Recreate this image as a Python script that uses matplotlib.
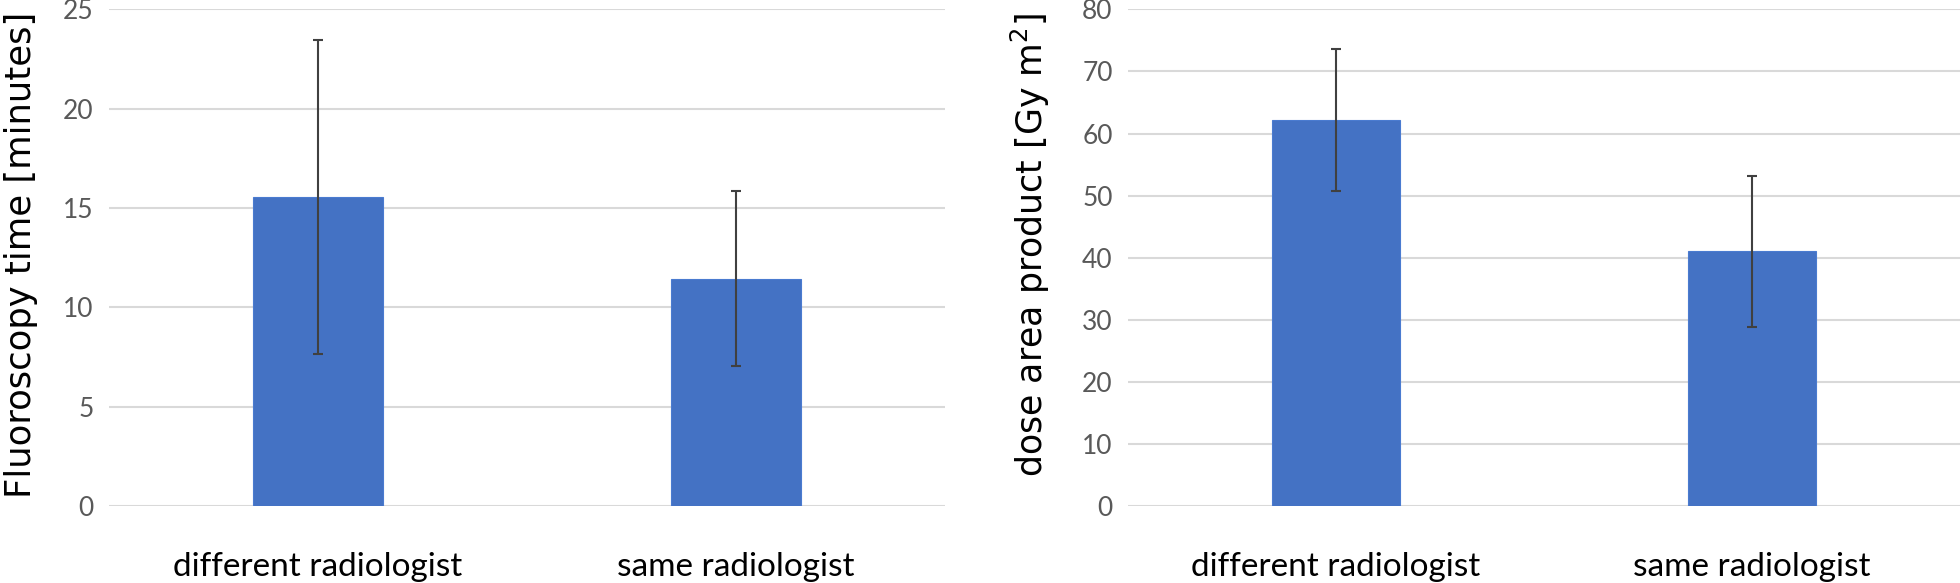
import matplotlib
matplotlib.use("Agg")
import matplotlib.pyplot as plt
import numpy as np

categories = ["different radiologist", "same radiologist"]
fluoro_mean = [15.55, 11.45]
fluoro_err = [7.9, 4.4]
dap_mean = [62.2, 41.0]
dap_err = [11.4, 12.1]

bar_color = "#4472C4"
grid_color = "#D9D9D9"
tick_color = "#595959"
err_color = "#404040"
tick_font = ["Lato", "DejaVu Sans"]

fig = plt.figure(figsize=(19.6, 5.83), dpi=100)
ax1 = fig.add_axes([0.0556, 0.132, 0.4265, 0.852])
ax2 = fig.add_axes([0.5755, 0.132, 0.4245, 0.852])

def style(ax, means, errs, ymax, step, ylabel, lx, ly, lsize):
    x = np.arange(len(categories))
    ax.bar(x, means, width=0.31, color=bar_color, edgecolor="#4A7BD0", linewidth=0.8, zorder=2)
    ax.errorbar(x, means, yerr=errs, fmt="none", ecolor=err_color, elinewidth=1.5,
                capsize=3.8, capthick=1.5, zorder=3)
    ax.set_xlim(-0.5, len(categories) - 0.5)
    ax.set_ylim(0, ymax)
    yt = np.arange(0, ymax + step / 2, step)
    ax.set_yticks(yt)
    ax.set_yticklabels([f"{v:g}" for v in yt], family=tick_font, fontsize=19, color=tick_color)
    ax.yaxis.grid(True, color=grid_color, linewidth=1.5, zorder=0)
    ax.set_axisbelow(True)
    for s in ax.spines.values():
        s.set_visible(False)
    ax.tick_params(axis="both", length=0)
    ax.tick_params(axis="y", pad=11)
    ax.tick_params(axis="x", pad=33)
    ax.set_xticks(x)
    ax.set_xticklabels(categories, family=tick_font, fontsize=24, color="#000000")
    ax.set_ylabel(ylabel, fontsize=lsize, color="#000000")
    ax.yaxis.set_label_coords(lx, ly)

style(ax1, fluoro_mean, fluoro_err, 25, 5, "Fluoroscopy time [minutes]", -0.085, 0.505, 25.5)
style(ax2, dap_mean, dap_err, 80, 10, "dose area product [Gy m$^2$]", -0.091, 0.525, 25)

fig.savefig("out.png", dpi=100)
